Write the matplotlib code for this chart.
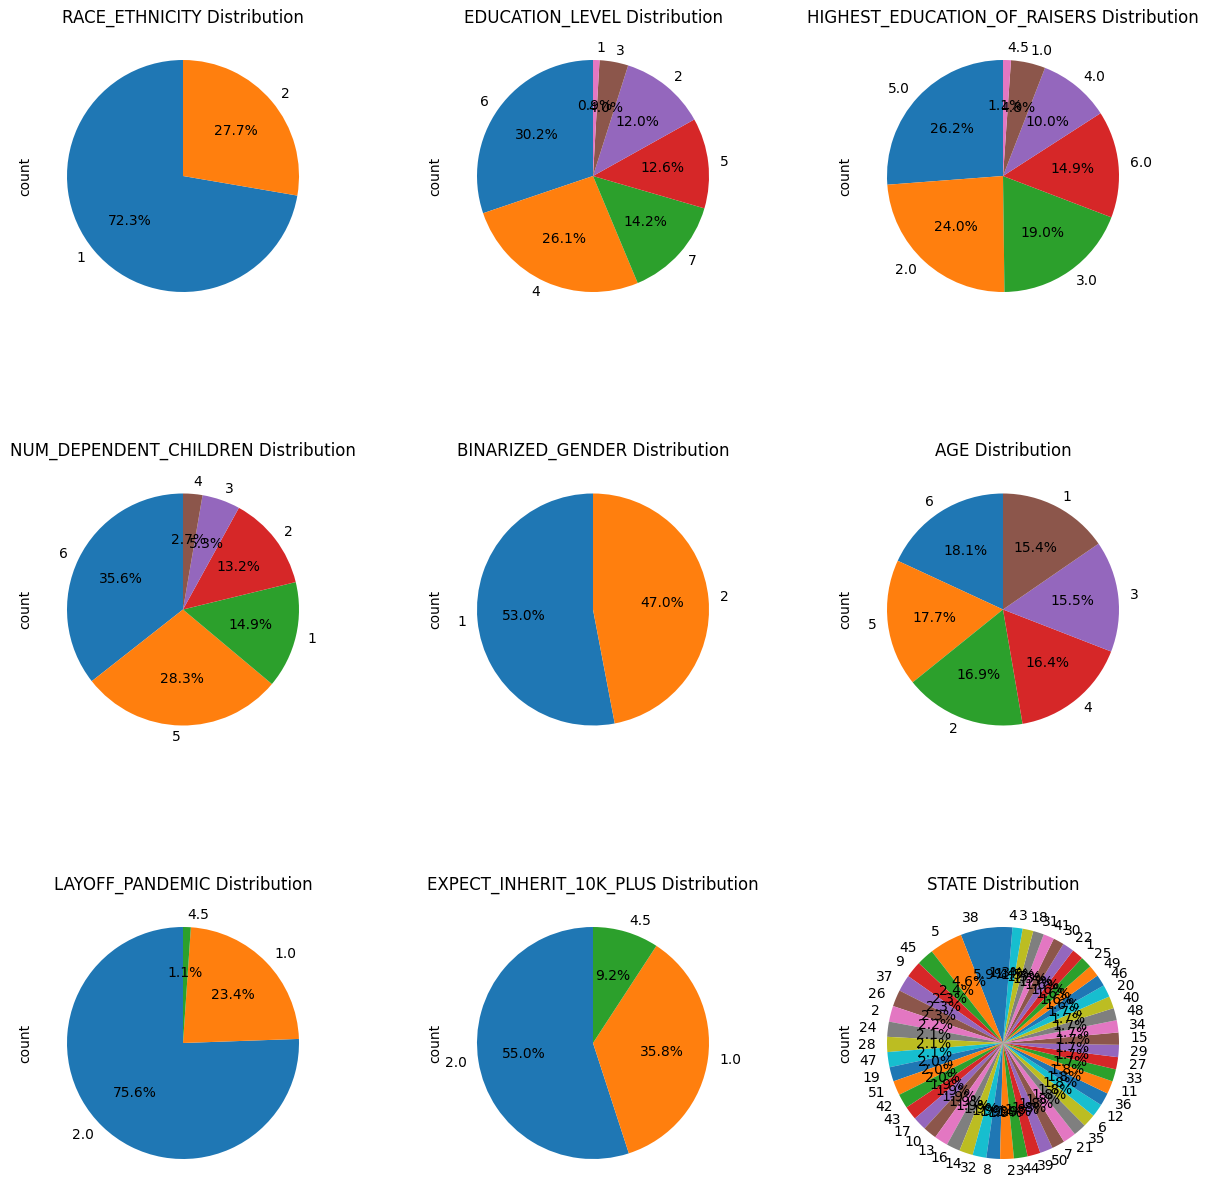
import pandas as pd
import matplotlib.pyplot as plt

# shares (value_counts order)
race_labels = ['1', '2']
race_vals = [72.3, 27.7]

edu_labels = ['6', '4', '7', '5', '2', '3', '1']
edu_vals = [30.2, 26.1, 14.2, 12.6, 12.0, 4.0, 0.9]

raisers_labels = ['5.0', '2.0', '3.0', '6.0', '4.0', '1.0', '4.5']
raisers_vals = [26.2, 24.0, 19.0, 14.9, 10.0, 4.8, 1.1]

children_labels = ['6', '5', '1', '2', '3', '4']
children_vals = [35.6, 28.3, 14.9, 13.2, 5.3, 2.7]

gender_labels = ['1', '2']
gender_vals = [53.0, 47.0]

age_labels = ['6', '5', '2', '4', '3', '1']
age_vals = [18.1, 17.7, 16.9, 16.4, 15.5, 15.4]

layoff_labels = ['2.0', '1.0', '4.5']
layoff_vals = [75.56, 23.36, 1.08]

inherit_labels = ['2.0', '1.0', '4.5']
inherit_vals = [55.0, 35.8, 9.2]

state_labels = ['38', '5', '45', '9', '37', '26', '2', '24', '28', '47',
                '19', '51', '42', '43', '17', '10', '13', '16', '14', '32',
                '8', '23', '44', '39', '50', '7', '21', '35', '6', '12',
                '36', '11', '33', '27', '29', '15', '34', '48', '40', '20',
                '46', '49', '25', '1', '22', '30', '41', '31', '18', '3', '4']
state_vals = [5.9, 4.6, 2.4, 2.3, 2.3, 2.3, 2.2, 2.1, 2.1, 2.1,
              2.0, 2.0, 2.0, 1.9, 1.9, 1.9, 1.9, 1.9, 1.9, 1.9,
              1.9, 1.9, 1.9, 1.8, 1.8, 1.8, 1.8, 1.8, 1.8, 1.8,
              1.8, 1.8, 1.7, 1.7, 1.7, 1.7, 1.7, 1.7, 1.7, 1.7,
              1.6, 1.6, 1.6, 1.6, 1.6, 1.5, 1.5, 1.5, 1.5, 1.4, 1.3]

charts = [
    ('RACE_ETHNICITY', race_labels, race_vals),
    ('EDUCATION_LEVEL', edu_labels, edu_vals),
    ('HIGHEST_EDUCATION_OF_RAISERS', raisers_labels, raisers_vals),
    ('NUM_DEPENDENT_CHILDREN', children_labels, children_vals),
    ('BINARIZED_GENDER', gender_labels, gender_vals),
    ('AGE', age_labels, age_vals),
    ('LAYOFF_PANDEMIC', layoff_labels, layoff_vals),
    ('EXPECT_INHERIT_10K_PLUS', inherit_labels, inherit_vals),
    ('STATE', state_labels, state_vals),
]

W, H = 1209, 1197
fig = plt.figure(figsize=(W / 100, H / 100))
box = 290  # axes side in pixels
for i, (name, labels, vals) in enumerate(charts):
    r, c = divmod(i, 3)
    cx = 183 + 410 * c
    cy = 176 + 433.5 * r
    ax = fig.add_axes([(cx - box / 2) / W, (H - cy - box / 2) / H, box / W, box / H])
    s = pd.Series(vals, index=labels, name='count')
    s.plot.pie(ax=ax, autopct='%1.1f%%', startangle=90)
    ax.set_title(f'{name} Distribution')
    ax.set_ylabel('count')

plt.savefig('out.png', dpi=100)
